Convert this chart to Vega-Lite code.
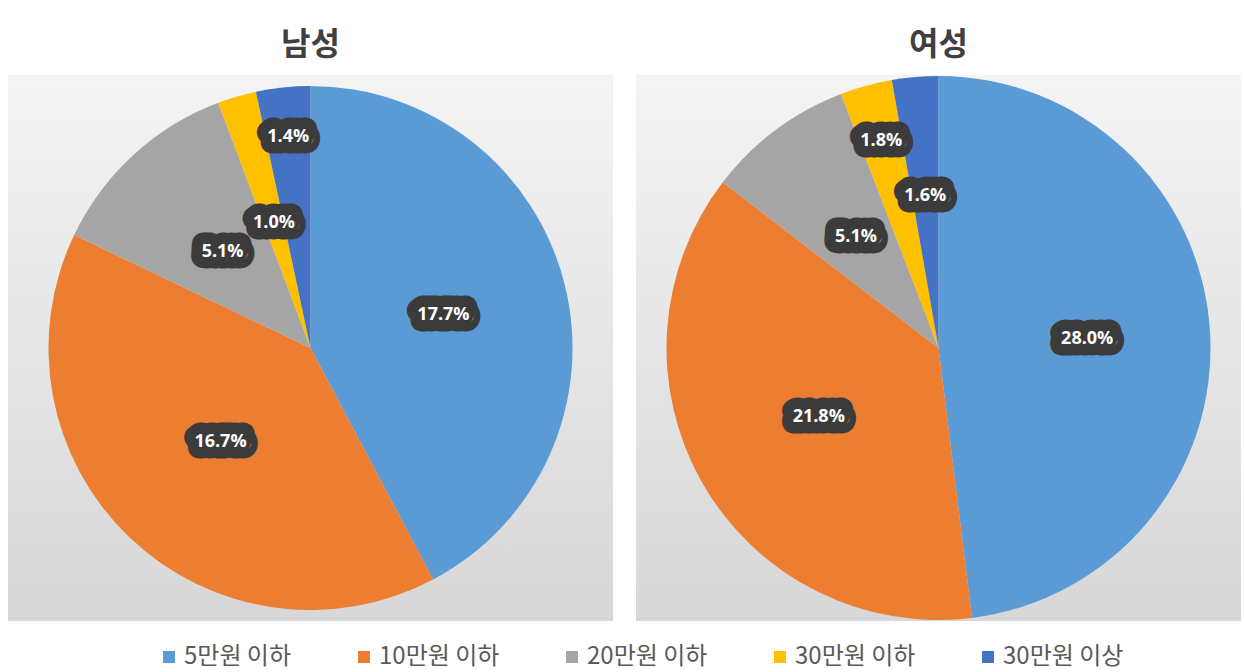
{
  "$schema": "https://vega.github.io/schema/vega-lite/v6.json",
  "padding": {"left": 8, "top": 29, "right": 0, "bottom": 0},
  "background": "white",
  "data": {"values": [
    {"gender": "남성", "group": "5만원 이하", "k": 1, "share": 0.177},
    {"gender": "남성", "group": "10만원 이하", "k": 2, "share": 0.167},
    {"gender": "남성", "group": "20만원 이하", "k": 3, "share": 0.051},
    {"gender": "남성", "group": "30만원 이하", "k": 4, "share": 0.010},
    {"gender": "남성", "group": "30만원 이상", "k": 5, "share": 0.014},
    {"gender": "여성", "group": "5만원 이하", "k": 1, "share": 0.280},
    {"gender": "여성", "group": "10만원 이하", "k": 2, "share": 0.218},
    {"gender": "여성", "group": "20만원 이하", "k": 3, "share": 0.051},
    {"gender": "여성", "group": "30만원 이하", "k": 4, "share": 0.018},
    {"gender": "여성", "group": "30만원 이상", "k": 5, "share": 0.016}
  ]},
  "spacing": 23,
  "bounds": "flush",
  "hconcat": [
    {
      "title": {"text": "남성"},
      "width": 605,
      "height": 546,
      "transform": [{"filter": "datum.gender === '남성'"}],
      "encoding": {
        "theta": {"field": "share", "type": "quantitative", "stack": true},
        "order": {"field": "k", "type": "quantitative"}
      },
      "layer": [
        {
          "mark": {"type": "rect", "fill": {"gradient": "linear", "x1": 0, "y1": 0, "x2": 0, "y2": 1, "stops": [{"offset": 0, "color": "#f4f4f4"}, {"offset": 1, "color": "#d7d7d7"}]}},
          "encoding": {"theta": null, "order": null}
        },
        {
          "mark": {"type": "arc", "outerRadius": 262},
          "encoding": {
            "color": {
              "field": "group", "type": "nominal",
              "scale": {"domain": ["5만원 이하", "10만원 이하", "20만원 이하", "30만원 이하", "30만원 이상"], "range": ["#5B9BD5", "#ED7D31", "#A5A5A5", "#FFC000", "#4472C4"]},
              "legend": {"title": null, "orient": "none", "legendX": 149, "legendY": 570, "direction": "horizontal"}
            }
          }
        },
        {
          "mark": {"type": "text", "radius": {"expr": "datum.k === 5 ? 212 : datum.k === 1 ? 137 : 130"}, "font": "Open Sans", "fontWeight": "bold", "fontSize": 18, "fill": "#3b3b3b", "stroke": "#3b3b3b", "strokeWidth": 23, "strokeJoin": "round", "baseline": "middle", "align": "center"},
          "encoding": {"text": {"field": "share", "type": "quantitative", "format": ".1%"}}
        },
        {
          "mark": {"type": "text", "radius": {"expr": "datum.k === 5 ? 212 : datum.k === 1 ? 137 : 130"}, "font": "Open Sans", "fontWeight": "bold", "fontSize": 18, "fill": "white", "baseline": "middle", "align": "center"},
          "encoding": {"text": {"field": "share", "type": "quantitative", "format": ".1%"}}
        }
      ]
    },
    {
      "title": {"text": "여성"},
      "width": 605,
      "height": 546,
      "transform": [{"filter": "datum.gender === '여성'"}],
      "encoding": {
        "theta": {"field": "share", "type": "quantitative", "stack": true},
        "order": {"field": "k", "type": "quantitative"}
      },
      "layer": [
        {
          "mark": {"type": "rect", "fill": {"gradient": "linear", "x1": 0, "y1": 0, "x2": 0, "y2": 1, "stops": [{"offset": 0, "color": "#f4f4f4"}, {"offset": 1, "color": "#d7d7d7"}]}},
          "encoding": {"theta": null, "order": null}
        },
        {
          "mark": {"type": "arc", "outerRadius": 272},
          "encoding": {
            "color": {
              "field": "group", "type": "nominal",
              "scale": {"domain": ["5만원 이하", "10만원 이하", "20만원 이하", "30만원 이하", "30만원 이상"], "range": ["#5B9BD5", "#ED7D31", "#A5A5A5", "#FFC000", "#4472C4"]},
              "legend": null
            }
          }
        },
        {
          "mark": {"type": "text", "radius": {"expr": "datum.k === 4 ? 215 : datum.k === 5 ? 153 : datum.k === 1 ? 149 : 138"}, "font": "Open Sans", "fontWeight": "bold", "fontSize": 18, "fill": "#3b3b3b", "stroke": "#3b3b3b", "strokeWidth": 23, "strokeJoin": "round", "baseline": "middle", "align": "center"},
          "encoding": {"text": {"field": "share", "type": "quantitative", "format": ".1%"}}
        },
        {
          "mark": {"type": "text", "radius": {"expr": "datum.k === 4 ? 215 : datum.k === 5 ? 153 : datum.k === 1 ? 149 : 138"}, "font": "Open Sans", "fontWeight": "bold", "fontSize": 18, "fill": "white", "baseline": "middle", "align": "center"},
          "encoding": {"text": {"field": "share", "type": "quantitative", "format": ".1%"}}
        }
      ]
    }
  ],
  "resolve": {"scale": {"theta": "independent", "color": "independent"}, "legend": {"color": "independent"}},
  "config": {
    "view": {"stroke": null},
    "title": {"fontSize": 32, "fontWeight": "bold", "color": "#404040", "font": "Noto Sans CJK KR", "anchor": "middle", "offset": 13},
    "legend": {"symbolType": "square", "symbolSize": 144, "labelFontSize": 24, "labelColor": "#595959", "labelFont": "Noto Sans CJK KR", "columnPadding": 60, "labelOffset": 3, "symbolStrokeWidth": 0}
  }
}
